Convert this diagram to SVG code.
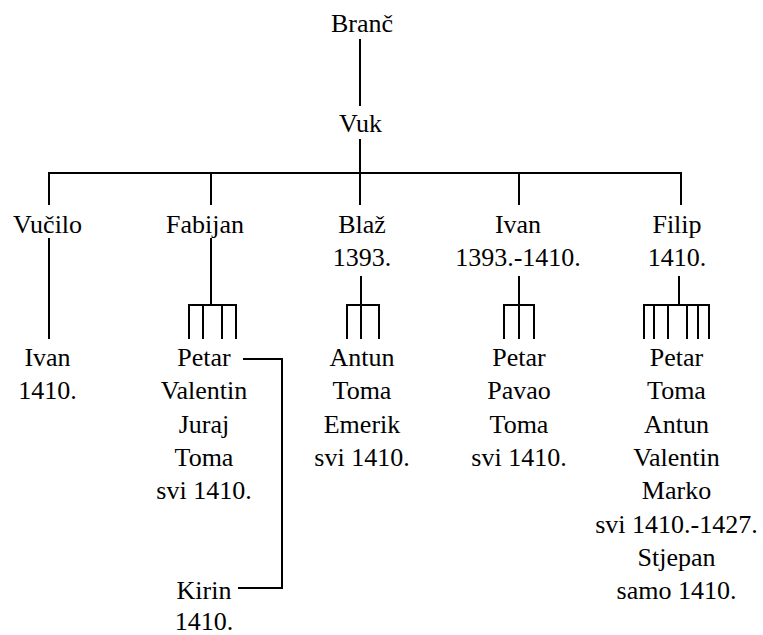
<svg xmlns="http://www.w3.org/2000/svg" width="763" height="635" viewBox="0 0 763 635">
<style>
text{font-family:'Liberation Serif','Times New Roman',serif;font-size:26px;fill:#000;text-anchor:middle}
.c line,.c path{stroke:#000;stroke-width:2;fill:none}
</style>
<rect width="763" height="635" fill="#fff"/>
<g class="c" id="connectors">
<line x1="360" y1="39" x2="360" y2="106"/>
<line x1="360" y1="139" x2="360" y2="173"/>
<path d="M49,205 V173 H681 V205"/>
<line x1="211" y1="173" x2="211" y2="205"/>
<line x1="360" y1="173" x2="360" y2="205"/>
<line x1="519" y1="173" x2="519" y2="205"/>
<line x1="49" y1="238" x2="49" y2="339"/>
<line x1="211" y1="238" x2="211" y2="305"/>
<path d="M189,339 V305 H236 V339 M203,305 V339 M222,305 V339"/>
<line x1="361" y1="276" x2="361" y2="339"/>
<path d="M347,339 V305 H379 V339"/>
<line x1="519" y1="276" x2="519" y2="339"/>
<path d="M504,339 V305 H534 V339"/>
<line x1="679" y1="276" x2="679" y2="305"/>
<path d="M644,339 V305 H709 V339 M654,305 V339 M668,305 V339 M687,305 V339 M698,305 V339"/>
<path d="M243,359 H282 V588 H238"/>
</g>
<g id="branc"><text x="362" y="32">Branč</text></g>
<g id="vuk"><text x="360.5" y="132">Vuk</text></g>
<g id="vucilo"><text x="47.5" y="233">Vučilo</text></g>
<g id="fabijan"><text x="205" y="233">Fabijan</text></g>
<g id="blaz"><text x="362" y="233">Blaž</text><text x="362" y="266">1393.</text></g>
<g id="ivan"><text x="518" y="233">Ivan</text><text x="518" y="266">1393.-1410.</text></g>
<g id="filip"><text x="677" y="233">Filip</text><text x="677" y="266">1410.</text></g>
<g id="ivan1410"><text x="47.5" y="366">Ivan</text><text x="47.5" y="399.3">1410.</text></g>
<g id="fabijan-sons"><text x="204" y="366">Petar</text><text x="204" y="399.3">Valentin</text><text x="204" y="432.7">Juraj</text><text x="204" y="466">Toma</text><text x="204" y="499.3">svi 1410.</text></g>
<g id="blaz-sons"><text x="362" y="366">Antun</text><text x="362" y="399.3">Toma</text><text x="362" y="432.7">Emerik</text><text x="362" y="466">svi 1410.</text></g>
<g id="ivan-sons"><text x="519" y="366">Petar</text><text x="519" y="399.3">Pavao</text><text x="519" y="432.7">Toma</text><text x="519" y="466">svi 1410.</text></g>
<g id="filip-sons"><text x="676.5" y="366">Petar</text><text x="676.5" y="399.3">Toma</text><text x="676.5" y="432.7">Antun</text><text x="676.5" y="466">Valentin</text><text x="676.5" y="499.3">Marko</text><text x="676.5" y="532.7">svi 1410.-1427.</text><text x="676.5" y="566">Stjepan</text><text x="676.5" y="599.3">samo 1410.</text></g>
<g id="kirin"><text x="204" y="599.3">Kirin</text><text x="204" y="630">1410.</text></g>
</svg>
